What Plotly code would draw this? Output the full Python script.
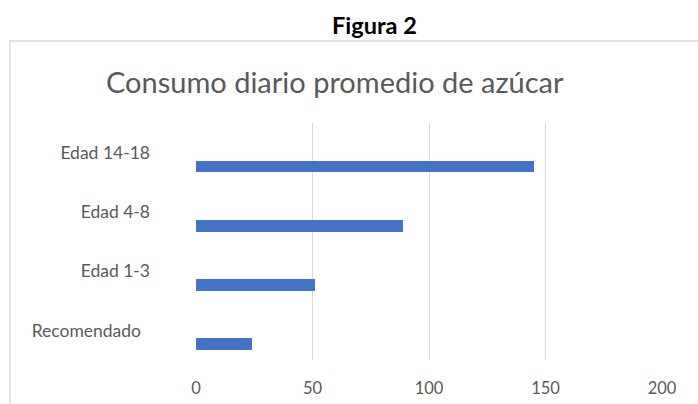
import plotly.graph_objects as go

# Data
categories = ["Recomendado", "Edad 1-3", "Edad 4-8", "Edad 14-18"]
category_labels = ["Recomendado\u00a0\u00a0", "Edad 1-3", "Edad 4-8", "Edad 14-18"]
values = [24, 51, 89, 145]
x_ticks = [0, 50, 100, 150, 200]
chart_title = "Consumo diario promedio de azúcar"
figure_label = "Figura 2"

FONT = "Lato"
GRAY = "#595959"

fig = go.Figure(
    go.Bar(
        y=categories,
        x=values,
        orientation="h",
        marker=dict(color="#4472C4", line=dict(width=0)),
        width=0.197,
        offset=-0.332,
        hoverinfo="skip",
    )
)

# plot-area geometry (px)
W, H = 698, 404
L, R, T, B = 196, 36, 123, 44
pw, ph = W - L - R, H - T - B

def px_x(x):
    return (x - L) / pw

def px_y(y):
    return (H - B - y) / ph

fig.update_layout(
    width=W,
    height=H,
    margin=dict(l=L, r=R, t=T, b=B, autoexpand=False),
    paper_bgcolor="white",
    plot_bgcolor="white",
    showlegend=False,
    bargap=0,
    font=dict(family=FONT, color=GRAY),
    xaxis=dict(
        range=[0, 200],
        tickvals=x_ticks,
        ticktext=[str(v) for v in x_ticks],
        showgrid=True,
        gridcolor="#d9d9d9",
        gridwidth=1,
        zeroline=False,
        showline=False,
        ticks="",
        tickfont=dict(family=FONT, size=16.5, color=GRAY),
        ticklabelstandoff=16,
        fixedrange=True,
    ),
    yaxis=dict(
        categoryorder="array",
        categoryarray=categories,
        tickvals=categories,
        ticktext=category_labels,
        range=[-0.5, 3.5],
        showgrid=False,
        zeroline=False,
        showline=False,
        ticks="",
        tickfont=dict(family=FONT, size=17.5, color=GRAY),
        ticklabelstandoff=45,
        fixedrange=True,
    ),
    shapes=[
        dict(
            type="rect",
            xref="paper",
            yref="paper",
            x0=px_x(10),
            x1=px_x(720),
            y0=px_y(430),
            y1=px_y(41),
            line=dict(color="#d9d9d9", width=1.5),
            fillcolor="rgba(0,0,0,0)",
            layer="below",
        )
    ],
    annotations=[
        dict(
            text="<b>" + figure_label + "</b>",
            xref="paper",
            yref="paper",
            x=px_x(374),
            y=px_y(25),
            xanchor="center",
            yanchor="middle",
            showarrow=False,
            font=dict(family=FONT, size=23.5, color="#000000"),
        ),
        dict(
            text=chart_title,
            xref="paper",
            yref="paper",
            x=px_x(335),
            y=px_y(82),
            xanchor="center",
            yanchor="middle",
            showarrow=False,
            font=dict(family=FONT, size=29, color=GRAY),
        ),
    ],
)

fig.write_html(
    "out.html",
    config={"displayModeBar": False, "staticPlot": True},
    post_script="document.body.style.margin='0';document.body.style.overflow='hidden';",
)
